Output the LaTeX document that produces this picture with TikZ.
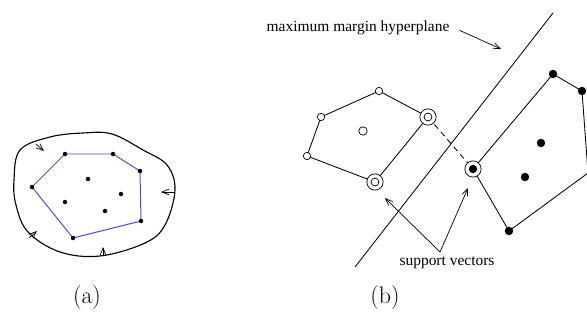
\documentclass[tikz,border=0pt]{standalone}
\usepackage{fontspec}
\newfontfamily\figfont{Liberation Serif}
\usepackage{tikz}
\usetikzlibrary{arrows.meta,calc}
\definecolor{hullblue}{RGB}{80,80,195}

\tikzset{
  arr/.style={-{Straight Barb[length=5pt,width=4pt]},line width=0.5pt},
  ptin/.style={fill=black},
  ptout/.style={draw,fill=white,line width=0.5pt},
  edge/.style={line width=0.6pt}
}

\begin{document}
\begin{tikzpicture}[x=0.025cm,y=-0.025cm,
    every node/.style={font=\figfont\fontsize{11}{13}\selectfont}]
  \useasboundingbox (0,0) rectangle (587,322);

  % (a) enclosing curve shrinking onto the hull
  \draw[line width=0.8pt] plot[smooth cycle,tension=0.6] coordinates
    {(14,180) (20,150) (50,137) (83,133) (112,134) (143,150) (167,165) (175,190)
     (165,225) (145,243) (100,256) (60,252) (28,232) (16,205)};
  \foreach \sx/\sy/\tx/\ty in {36/144/44/151, 175/192/161/192, 29/238/37/231, 103/256/103/247}
    \draw[arr] (\sx,\sy) -- (\tx,\ty);
  % convex hull
  \draw[hullblue,line width=0.7pt] (65,154) -- (113,154) -- (140,171) -- (141,221)
    -- (73,238) -- (32,187) -- cycle;
  \foreach \p in {(65,154),(113,154),(140,171),(141,221),(73,238),(32,187),
                  (88,179),(121,194),(65,202),(105,211)}
    \fill \p circle (1.6pt);

  % (b) hyperplane
  \draw[edge] (355,267) -- (553,13);
  \node (mmh) at (358,28) {maximum margin hyperplane};
  \coordinate (mmhtip) at (501,49);
  \draw[arr,shorten <=4pt] (mmh.east) -- (mmhtip);

  % open class
  \coordinate (o1) at (379,91);
  \coordinate (o2) at (428,117);
  \coordinate (o3) at (375,182);
  \coordinate (o4) at (307,156);
  \coordinate (o5) at (321,117);
  \draw[edge] (o1) -- (o2) -- (o3) -- (o4) -- (o5) -- cycle;
  % filled class
  \coordinate (f1) at (473,169);
  \coordinate (f2) at (553,74);
  \coordinate (f3) at (582,91);
  \coordinate (f4) at (588,173);
  \coordinate (f5) at (509,231);
  \draw[edge] (f1) -- (f2) -- (f3) -- (f4) -- (f5) -- cycle;
  \draw[edge,dashed,dash pattern=on 4pt off 3pt] (o2) -- (f1);

  \foreach \p in {o1,o4,o5}
    \draw[ptout] (\p) circle (2.6pt);
  \draw[ptout] (363,131) circle (3pt);
  \foreach \p in {o2,o3} {
    \draw[ptout] (\p) circle (5.8pt);
    \draw[ptout] (\p) circle (2.8pt);
  }
  \draw[ptout] (f1) circle (5.8pt);
  \foreach \p in {(f1),(f2),(f3),(f5),(541,143),(525,177)}
    \fill[ptin] \p circle (3pt);

  % support vector labels
  \node (sv) at (447,263) {support vectors};
  \coordinate (svl) at (385,198);
  \coordinate (svr) at (468,188);
  \draw[arr] ($(sv.north)+(-7,0)$) -- (svl);
  \draw[arr] ($(sv.north)+(-7,0)$) -- (svr);

  % sub-figure captions
  \node[font=\fontsize{17}{20}\selectfont] (capa) at (87,298) {(a)};
  \node[font=\fontsize{17}{20}\selectfont] (capb) at (385,298) {(b)};
\end{tikzpicture}
\end{document}
